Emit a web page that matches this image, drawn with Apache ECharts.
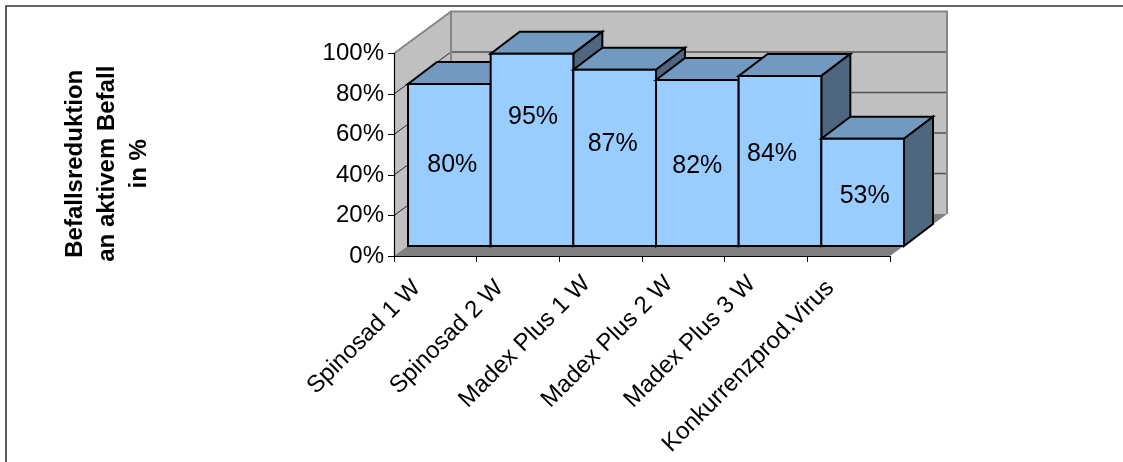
<!DOCTYPE html>
<html><head><meta charset="utf-8">
<style>html,body{margin:0;padding:0;background:#fff}#c{width:1123px;height:462px}</style>
<script src="https://cdn.jsdelivr.net/npm/echarts@6/dist/echarts.min.js"></script>
</head><body><div id="c"></div>
<script>
const categories = ['Spinosad 1 W','Spinosad 2 W','Madex Plus 1 W','Madex Plus 2 W','Madex Plus 3 W','Konkurrenzprod.Virus'];
const reduction = [80,95,87,82,84,53];
const yTicks = [0,20,40,60,80,100];
const yTitle = 'Befallsreduktion\nan aktivem Befall\nin %';

// layout constants (3D projection and hand-placed label nudges of the reference)
const wall = {dx:57, dy:-42};
const barNear = {dx:14, dy:-10};
const barFar = {dx:43, dy:-32};
const labelNudge = [[3,0],[1,-33],[-2,-14],[0,3],[-8,-7],[2,4]];
const xLabelPad = [26,26,20,20,20,26];
const FONT = 'Liberation Sans, Arial, sans-serif';

function poly(points, fill, stroke, lw){
  return {type:'polygon', shape:{points}, style:{fill, stroke, lineWidth:lw, lineJoin:'miter'}};
}
function line(points, stroke, lw){
  return {type:'polyline', shape:{points}, style:{fill:'none', stroke, lineWidth:lw}};
}
function shift(p,o){return [p[0]+o.dx,p[1]+o.dy];}

function renderWalls(params, api){
  if(params.dataIndex!==0) return;
  const band = api.size([1,0])[0];
  const x0 = api.coord([0,0])[0]-band/2;
  const x1 = api.coord([categories.length-1,0])[0]+band/2;
  const yAt = v => api.coord([0,v])[1];
  const yb = yAt(0), yt = yAt(100);
  const A=[x0,yb],B=[x0,yt],C=[x1,yb],D=[x1,yt];
  const ch=[
    poly([A,B,shift(B,wall),shift(A,wall)],'#c0c0c0','none',0),
    poly([shift(A,wall),shift(B,wall),shift(D,wall),shift(C,wall)],'#c0c0c0','none',0),
    poly([A,C,shift(C,wall),shift(A,wall)],'#808080','none',0)
  ];
  yTicks.slice(1,-1).forEach(v=>{
    const L=[x0,yAt(v)],R=[x1,yAt(v)];
    ch.push(line([L,shift(L,wall)],'#222',1));
    ch.push(line([shift(L,wall),shift(R,wall)],'#505050',1.3));
  });
  ch.push(line([shift(A,wall),shift(B,wall),shift(D,wall),shift(C,wall)],'#858585',2));
  ch.push(line([B,shift(B,wall)],'#858585',2));
  return {type:'group',children:ch};
}
function renderBar(params, api){
  const i = api.value(0), v = api.value(1);
  const band = api.size([1,0])[0];
  const c0 = api.coord([i,0]), c1 = api.coord([i,v]);
  const l = c0[0]-band/2+barNear.dx, r = c0[0]+band/2+barNear.dx;
  const b = c0[1]+barNear.dy, t = c1[1]+barNear.dy;
  const off = {dx:barFar.dx-barNear.dx, dy:barFar.dy-barNear.dy};
  const n = labelNudge[i];
  return {type:'group',children:[
    poly([[l,t],[r,t],shift([r,t],off),shift([l,t],off)],'#7299bf','#000',2),
    poly([[r,t],[r,b],shift([r,b],off),shift([r,t],off)],'#4f6680','#000',2),
    poly([[l,b],[r,b],[r,t],[l,t]],'#99ccff','#000',2),
    {type:'text',style:{text:v+'%',x:(l+r)/2+n[0],y:(t+b)/2+n[1],fill:'#000',
      font:'25px '+FONT,textAlign:'center',textVerticalAlign:'middle'}}
  ]};
}

const xRich = {};
xLabelPad.forEach((p,i)=>{ xRich['l'+i]={fontSize:24,fontFamily:FONT,color:'#000',padding:[0,p,0,0]}; });

const chart = echarts.init(document.getElementById('c'),null,{renderer:'canvas'});
chart.setOption({
  animation:false,
  backgroundColor:'#fff',
  graphic:[{type:'polyline',silent:true,z:0,shape:{points:[[6,470],[6,6],[1123,6]]},
    style:{fill:'none',stroke:'#333',lineWidth:1.6}}],
  grid:{left:394,top:53.5,width:496,height:202.5,containLabel:false},
  xAxis:{type:'category',data:categories,
    axisLine:{show:true,onZero:false,lineStyle:{color:'#000',width:1.2}},
    axisTick:{show:true,alignWithLabel:false,length:6,lineStyle:{color:'#000',width:1}},
    axisLabel:{interval:0,rotate:45,margin:10,color:'#000',fontSize:24,fontFamily:FONT,
      formatter:(v,i)=>'{l'+i+'|'+v+'}',rich:xRich},
    z:5},
  yAxis:{type:'value',min:0,max:100,interval:20,
    name:yTitle,nameLocation:'middle',nameRotate:90,nameGap:239,
    nameTextStyle:{fontFamily:FONT,fontSize:24,fontWeight:'bold',color:'#000',lineHeight:32,padding:[0,18,0,0]},
    axisLine:{show:true,lineStyle:{color:'#000',width:1.2}},
    axisTick:{show:true,length:6,lineStyle:{color:'#000',width:1}},
    axisLabel:{formatter:'{value}%',margin:10,color:'#000',fontSize:24,fontFamily:FONT,padding:[2,0,0,0]},
    splitLine:{show:false},z:5},
  series:[
    {type:'custom',coordinateSystem:'cartesian2d',renderItem:renderWalls,z:1,silent:true,clip:false,
      data:reduction.map((v,i)=>[i,v]),encode:{x:0,y:1}},
    {type:'custom',coordinateSystem:'cartesian2d',renderItem:renderBar,z:2,silent:true,clip:false,
      data:reduction.map((v,i)=>[i,v]),encode:{x:0,y:1}}
  ]
});
</script></body></html>
